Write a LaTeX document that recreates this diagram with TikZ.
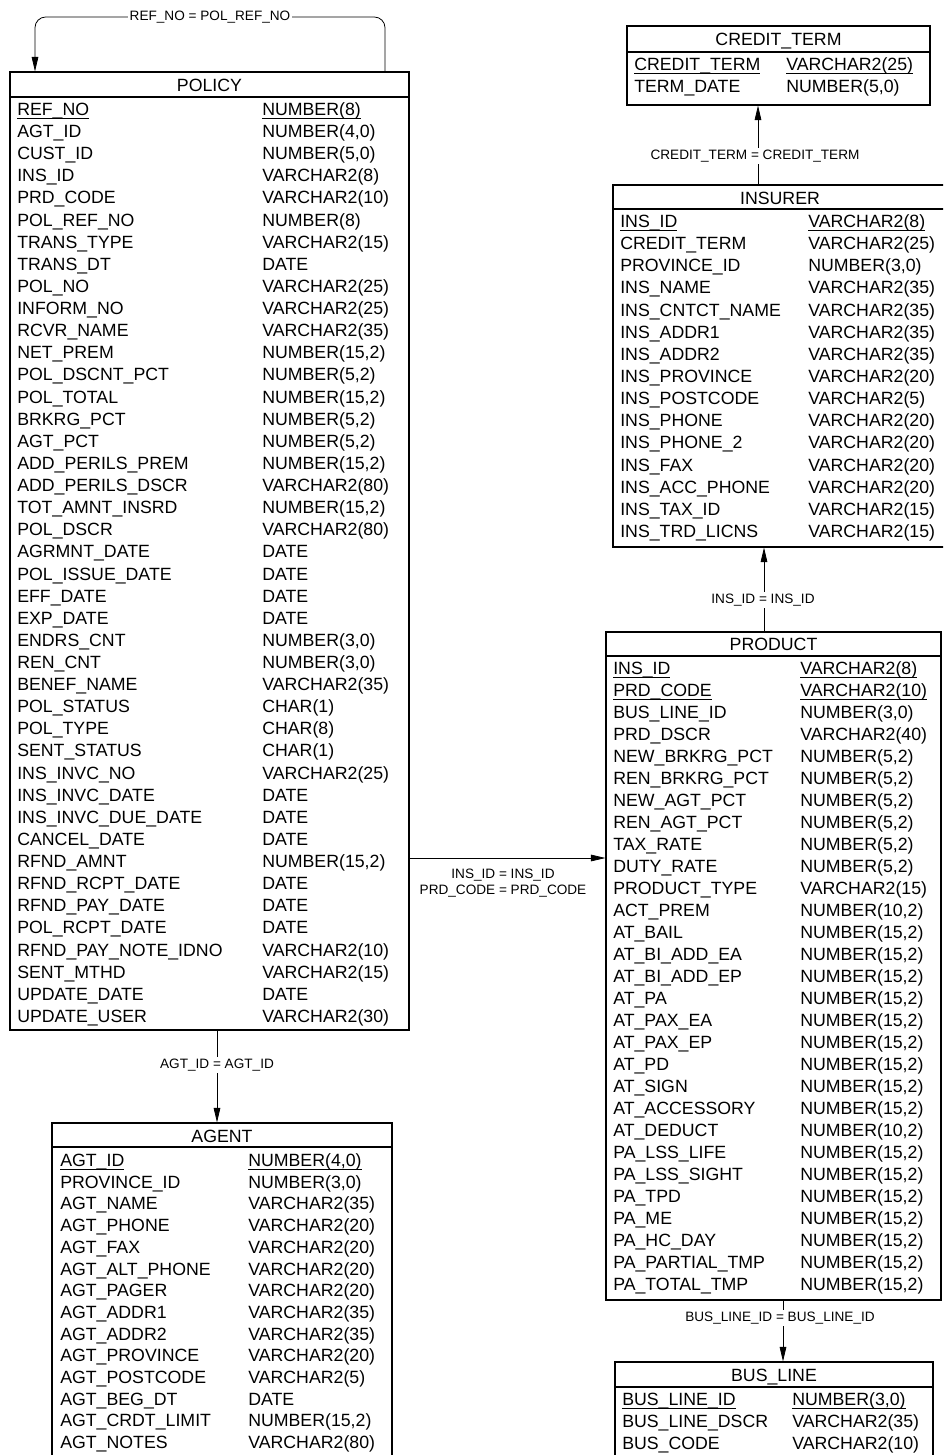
\documentclass[tikz,border=0pt]{standalone}
\usepackage{fontspec}
\setmainfont{Liberation Sans}
\usetikzlibrary{arrows.meta,fit}
\newcommand\pkul[1]{\setbox0=\hbox{#1}\dp0=0.6pt\underline{\box0}}
\newcommand\ertrows[6]{%
  \foreach \k/\n/\t [count=\i from 0] in {#6} {
    \node[cell, anchor=base west] (#1n\i) at (#2, {#4+#5*\i+6.5}) {\ifnum\k=1 \pkul{\n}\else\n\fi};
    \node[cell, anchor=base west] (#1t\i) at (#3, {#4+#5*\i+6.5}) {\ifnum\k=1 \pkul{\t}\else\t\fi};
  }}
\newcommand\erttable[8]{% #1 name, #2 left, #3 top, #4 right, #5 bottom, #6 sepY, #7 titleY, #8 title
  \node[tblbox, fit={(#2,#3) (#4,#5)}] (#1) {};
  \draw[tblline] (#1.west |- 0,#6) -- (#1.east |- 0,#6);
  \node[cell, anchor=base] (#1title) at ({(#2+#4)/2}, {#7+6.5}) {#8};
}
\begin{document}
\begin{tikzpicture}[x=0.75pt,y=-0.75pt,
  tblbox/.style={draw, line width=0.8pt, inner sep=0pt},
  tblline/.style={line width=0.8pt},
  cell/.style={inner sep=0pt, font=\fontsize{13.3}{15}\selectfont},
  conn/.style={draw, line width=0.6pt, -{Triangle[length=11pt,width=5pt]}},
  lbl/.style={font=\fontsize{10.2}{11.8}\selectfont, fill=white, inner sep=1.5pt, align=center}]
\clip (0,0) rectangle (943,1455);
\fill[white] (0,0) rectangle (943,1455);

% POLICY
\erttable{policy}{10}{72}{409}{1030}{97}{85}{POLICY}
\ertrows{pol}{17}{262}{109}{22.12}{1/REF\_NO/NUMBER(8), 0/AGT\_ID/{NUMBER(4,0)}, 0/CUST\_ID/{NUMBER(5,0)}, 0/INS\_ID/VARCHAR2(8), 0/PRD\_CODE/VARCHAR2(10), 0/POL\_REF\_NO/NUMBER(8), 0/TRANS\_TYPE/VARCHAR2(15), 0/TRANS\_DT/DATE, 0/POL\_NO/VARCHAR2(25), 0/INFORM\_NO/VARCHAR2(25), 0/RCVR\_NAME/VARCHAR2(35), 0/NET\_PREM/{NUMBER(15,2)}, 0/POL\_DSCNT\_PCT/{NUMBER(5,2)}, 0/POL\_TOTAL/{NUMBER(15,2)}, 0/BRKRG\_PCT/{NUMBER(5,2)}, 0/AGT\_PCT/{NUMBER(5,2)}, 0/ADD\_PERILS\_PREM/{NUMBER(15,2)}, 0/ADD\_PERILS\_DSCR/VARCHAR2(80), 0/TOT\_AMNT\_INSRD/{NUMBER(15,2)}, 0/POL\_DSCR/VARCHAR2(80), 0/AGRMNT\_DATE/DATE, 0/POL\_ISSUE\_DATE/DATE, 0/EFF\_DATE/DATE, 0/EXP\_DATE/DATE, 0/ENDRS\_CNT/{NUMBER(3,0)}, 0/REN\_CNT/{NUMBER(3,0)}, 0/BENEF\_NAME/VARCHAR2(35), 0/POL\_STATUS/CHAR(1), 0/POL\_TYPE/CHAR(8), 0/SENT\_STATUS/CHAR(1), 0/INS\_INVC\_NO/VARCHAR2(25), 0/INS\_INVC\_DATE/DATE, 0/INS\_INVC\_DUE\_DATE/DATE, 0/CANCEL\_DATE/DATE, 0/RFND\_AMNT/{NUMBER(15,2)}, 0/RFND\_RCPT\_DATE/DATE, 0/RFND\_PAY\_DATE/DATE, 0/POL\_RCPT\_DATE/DATE, 0/RFND\_PAY\_NOTE\_IDNO/VARCHAR2(10), 0/SENT\_MTHD/VARCHAR2(15), 0/UPDATE\_DATE/DATE, 0/UPDATE\_USER/VARCHAR2(30)}

% AGENT
\erttable{agent}{52}{1123}{392}{1480}{1147}{1136}{AGENT}
\ertrows{agt}{60}{248}{1160}{21.7}{1/AGT\_ID/{NUMBER(4,0)}, 0/PROVINCE\_ID/{NUMBER(3,0)}, 0/AGT\_NAME/VARCHAR2(35), 0/AGT\_PHONE/VARCHAR2(20), 0/AGT\_FAX/VARCHAR2(20), 0/AGT\_ALT\_PHONE/VARCHAR2(20), 0/AGT\_PAGER/VARCHAR2(20), 0/AGT\_ADDR1/VARCHAR2(35), 0/AGT\_ADDR2/VARCHAR2(35), 0/AGT\_PROVINCE/VARCHAR2(20), 0/AGT\_POSTCODE/VARCHAR2(5), 0/AGT\_BEG\_DT/DATE, 0/AGT\_CRDT\_LIMIT/{NUMBER(15,2)}, 0/AGT\_NOTES/VARCHAR2(80)}

% CREDIT_TERM
\erttable{credit}{627}{26}{930}{105}{52}{39}{CREDIT\_TERM}
\ertrows{crd}{634}{786}{64}{22}{1/CREDIT\_TERM/VARCHAR2(25), 0/TERM\_DATE/{NUMBER(5,0)}}

% INSURER
\erttable{insurer}{613}{185}{947}{547}{209}{198}{INSURER}
\ertrows{ins}{620}{808}{221}{22.14}{1/INS\_ID/VARCHAR2(8), 0/CREDIT\_TERM/VARCHAR2(25), 0/PROVINCE\_ID/{NUMBER(3,0)}, 0/INS\_NAME/VARCHAR2(35), 0/INS\_CNTCT\_NAME/VARCHAR2(35), 0/INS\_ADDR1/VARCHAR2(35), 0/INS\_ADDR2/VARCHAR2(35), 0/INS\_PROVINCE/VARCHAR2(20), 0/INS\_POSTCODE/VARCHAR2(5), 0/INS\_PHONE/VARCHAR2(20), 0/INS\_PHONE\_2/VARCHAR2(20), 0/INS\_FAX/VARCHAR2(20), 0/INS\_ACC\_PHONE/VARCHAR2(20), 0/INS\_TAX\_ID/VARCHAR2(15), 0/INS\_TRD\_LICNS/VARCHAR2(15)}

% PRODUCT
\erttable{product}{606}{632}{941}{1300}{656}{644}{PRODUCT}
\ertrows{prd}{613}{800}{668}{22.0}{1/INS\_ID/VARCHAR2(8), 1/PRD\_CODE/VARCHAR2(10), 0/BUS\_LINE\_ID/{NUMBER(3,0)}, 0/PRD\_DSCR/VARCHAR2(40), 0/NEW\_BRKRG\_PCT/{NUMBER(5,2)}, 0/REN\_BRKRG\_PCT/{NUMBER(5,2)}, 0/NEW\_AGT\_PCT/{NUMBER(5,2)}, 0/REN\_AGT\_PCT/{NUMBER(5,2)}, 0/TAX\_RATE/{NUMBER(5,2)}, 0/DUTY\_RATE/{NUMBER(5,2)}, 0/PRODUCT\_TYPE/VARCHAR2(15), 0/ACT\_PREM/{NUMBER(10,2)}, 0/AT\_BAIL/{NUMBER(15,2)}, 0/AT\_BI\_ADD\_EA/{NUMBER(15,2)}, 0/AT\_BI\_ADD\_EP/{NUMBER(15,2)}, 0/AT\_PA/{NUMBER(15,2)}, 0/AT\_PAX\_EA/{NUMBER(15,2)}, 0/AT\_PAX\_EP/{NUMBER(15,2)}, 0/AT\_PD/{NUMBER(15,2)}, 0/AT\_SIGN/{NUMBER(15,2)}, 0/AT\_ACCESSORY/{NUMBER(15,2)}, 0/AT\_DEDUCT/{NUMBER(10,2)}, 0/PA\_LSS\_LIFE/{NUMBER(15,2)}, 0/PA\_LSS\_SIGHT/{NUMBER(15,2)}, 0/PA\_TPD/{NUMBER(15,2)}, 0/PA\_ME/{NUMBER(15,2)}, 0/PA\_HC\_DAY/{NUMBER(15,2)}, 0/PA\_PARTIAL\_TMP/{NUMBER(15,2)}, 0/PA\_TOTAL\_TMP/{NUMBER(15,2)}}

% BUS_LINE
\erttable{busline}{615}{1362}{933}{1480}{1387}{1375}{BUS\_LINE}
\ertrows{bus}{622}{792}{1399}{22}{1/BUS\_LINE\_ID/{NUMBER(3,0)}, 0/BUS\_LINE\_DSCR/VARCHAR2(35), 0/BUS\_CODE/VARCHAR2(10)}

% Connectors
\draw[conn, rounded corners=8pt] (policy.north -| 385,0) |- (35,17) -- (policy.north -| 35,0);
\node[lbl] (lref) at (210,17) {REF\_NO = POL\_REF\_NO};

\draw[conn] (policy.south -| 217,0) -- (agent.north -| 217,0);
\node[lbl] (lagt) at (217,1065) {AGT\_ID = AGT\_ID};

\draw[conn] (insurer.north -| 758,0) -- (credit.south -| 758,0);
\node[lbl] (lcrd) at (755,156) {CREDIT\_TERM = CREDIT\_TERM};

\draw[conn] (product.north -| 764,0) -- (insurer.south -| 764,0);
\node[lbl] (lins) at (763,600) {INS\_ID = INS\_ID};

\draw[conn] (product.south -| 783,0) -- (busline.north -| 783,0);
\node[lbl] (lbus) at (780,1318) {BUS\_LINE\_ID = BUS\_LINE\_ID};

\draw[conn] (policy.east |- 0,858) -- (product.west |- 0,858);
\node[lbl, fill=none] (lpp) at (503,883) {INS\_ID = INS\_ID\\PRD\_CODE = PRD\_CODE};
\end{tikzpicture}
\end{document}
